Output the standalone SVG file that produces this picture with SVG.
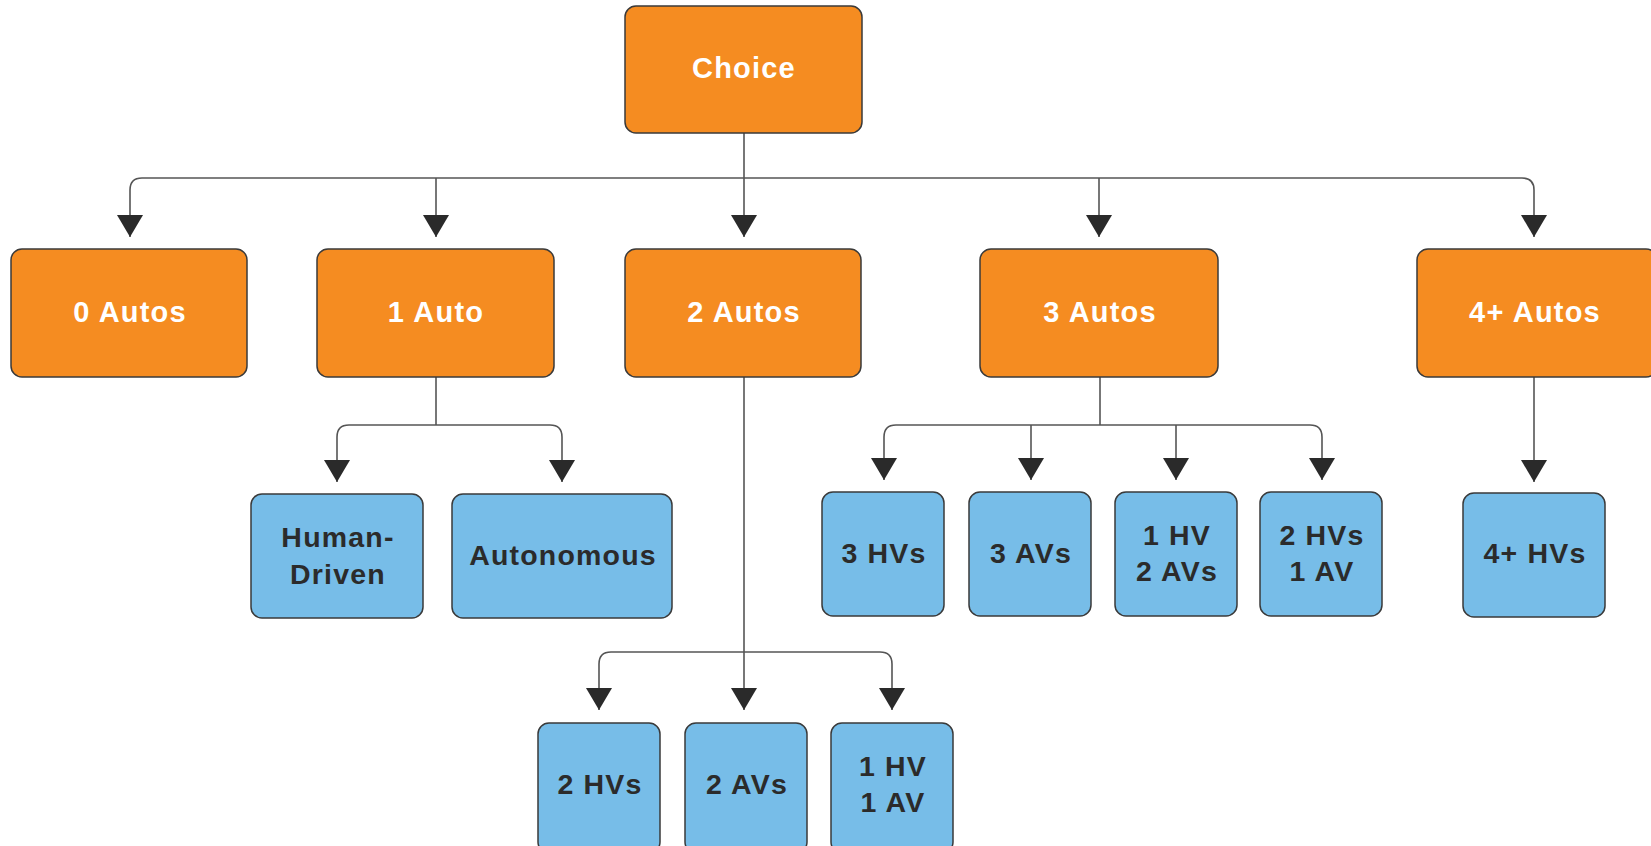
<svg xmlns="http://www.w3.org/2000/svg" width="1651" height="846" viewBox="0 0 1651 846">
<defs>
<style>
.o{fill:#F58C21;stroke:#3a3a3a;stroke-width:1.5}
.b{fill:#77BDE8;stroke:#3a3a3a;stroke-width:1.5}
.to{font-family:"Liberation Sans",Arial,sans-serif;font-weight:bold;font-size:29px;fill:#ffffff;text-anchor:middle;dominant-baseline:central;letter-spacing:1.2px}
.tb{font-family:"Liberation Sans",Arial,sans-serif;font-weight:bold;font-size:28.5px;fill:#2b2b2b;text-anchor:middle;dominant-baseline:central;letter-spacing:1.2px}
.c{fill:none;stroke:#555;stroke-width:1.6;marker-end:url(#ah)}
.l{fill:none;stroke:#555;stroke-width:1.6}
</style>
<marker id="ah" markerUnits="userSpaceOnUse" markerWidth="26" markerHeight="23" viewBox="0 0 26 23" refX="13" refY="22" orient="0">
<path d="M0 0 L26 0 L13 22 Z" fill="#2a2a2a"/>
</marker>
</defs>
<rect width="1651" height="846" fill="#ffffff"/>
<g id="connectors">
<path class="c" d="M744 133 V237"/>
<path class="c" d="M744 178 H142 Q130 178 130 190 V237"/>
<path class="c" d="M744 178 H1522 Q1534 178 1534 190 V237"/>
<path class="c" d="M436 178 V237"/>
<path class="c" d="M1099 178 V237"/>
<path class="l" d="M436 377 V425"/>
<path class="c" d="M436 425 H349 Q337 425 337 437 V482"/>
<path class="c" d="M436 425 H550 Q562 425 562 437 V482"/>
<path class="l" d="M1100 377 V425"/>
<path class="c" d="M1100 425 H896 Q884 425 884 437 V480"/>
<path class="c" d="M1100 425 H1310 Q1322 425 1322 437 V480"/>
<path class="c" d="M1031 425 V480"/>
<path class="c" d="M1176 425 V480"/>
<path class="c" d="M1534 377 V482"/>
<path class="c" d="M744 377 V710"/>
<path class="c" d="M744 652 H611 Q599 652 599 664 V710"/>
<path class="c" d="M744 652 H880 Q892 652 892 664 V710"/>
</g>
<g id="choice"><rect class="o" x="625" y="6" width="237" height="127" rx="11"/><text class="to" x="744" y="68">Choice</text></g>
<g id="autos0"><rect class="o" x="11" y="249" width="236" height="128" rx="11"/><text class="to" x="130" y="312">0 Autos</text></g>
<g id="autos1"><rect class="o" x="317" y="249" width="237" height="128" rx="11"/><text class="to" x="436" y="312">1 Auto</text></g>
<g id="autos2"><rect class="o" x="625" y="249" width="236" height="128" rx="11"/><text class="to" x="744" y="312">2 Autos</text></g>
<g id="autos3"><rect class="o" x="980" y="249" width="238" height="128" rx="11"/><text class="to" x="1100" y="312">3 Autos</text></g>
<g id="autos4"><rect class="o" x="1417" y="249" width="240" height="128" rx="11"/><text class="to" x="1535" y="312">4+ Autos</text></g>
<g id="human"><rect class="b" x="251" y="494" width="172" height="124" rx="11"/><text class="tb" x="338" y="537">Human-</text><text class="tb" x="338" y="574">Driven</text></g>
<g id="autonomous"><rect class="b" x="452" y="494" width="220" height="124" rx="11"/><text class="tb" x="563" y="555">Autonomous</text></g>
<g id="hv3"><rect class="b" x="822" y="492" width="122" height="124" rx="11"/><text class="tb" x="884" y="553">3 HVs</text></g>
<g id="av3"><rect class="b" x="969" y="492" width="122" height="124" rx="11"/><text class="tb" x="1031" y="553">3 AVs</text></g>
<g id="hv1av2"><rect class="b" x="1115" y="492" width="122" height="124" rx="11"/><text class="tb" x="1177" y="535">1 HV</text><text class="tb" x="1177" y="571">2 AVs</text></g>
<g id="hv2av1"><rect class="b" x="1260" y="492" width="122" height="124" rx="11"/><text class="tb" x="1322" y="535">2 HVs</text><text class="tb" x="1322" y="571">1 AV</text></g>
<g id="hv4"><rect class="b" x="1463" y="493" width="142" height="124" rx="11"/><text class="tb" x="1535" y="553">4+ HVs</text></g>
<g id="hv2"><rect class="b" x="538" y="723" width="122" height="130" rx="11"/><text class="tb" x="600" y="784">2 HVs</text></g>
<g id="av2"><rect class="b" x="685" y="723" width="122" height="130" rx="11"/><text class="tb" x="747" y="784">2 AVs</text></g>
<g id="hv1av1"><rect class="b" x="831" y="723" width="122" height="130" rx="11"/><text class="tb" x="893" y="766">1 HV</text><text class="tb" x="893" y="802">1 AV</text></g>
</svg>
